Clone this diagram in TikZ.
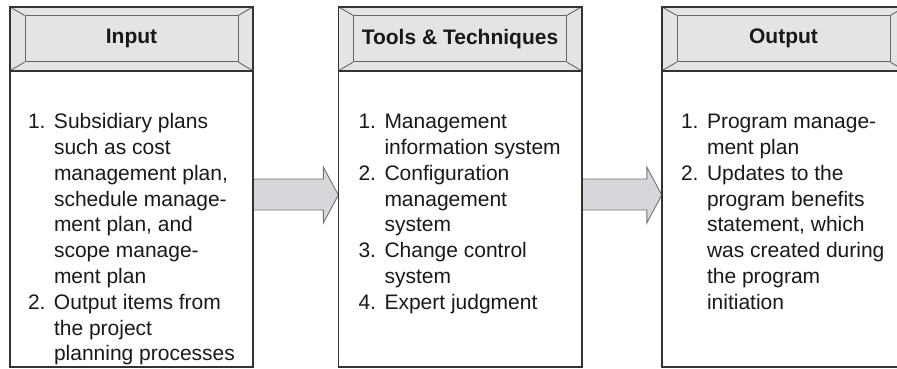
\documentclass[tikz,border=0pt]{standalone}
\usepackage{fontspec}
\setmainfont{Liberation Sans}
\usetikzlibrary{calc}

\definecolor{hdrgray}{HTML}{E4E4E4}
\definecolor{arrgray}{HTML}{D6D7DA}

\tikzset{
  panel/.style={minimum width=243pt, minimum height=360pt, inner sep=0pt},
  outline/.style={draw=black!80, line width=1.6pt},
  bevel/.style={draw=black!60, line width=0.9pt, fill=hdrgray},
  hdrbox/.style={bevel, minimum width=213pt, minimum height=46pt, inner sep=0pt,
    font=\fontsize{21}{25}\selectfont\bfseries, text=black!90},
  listtxt/.style={anchor=base west, inner sep=0pt,
    font=\fontsize{21}{25.8}\selectfont, text=black!90},
  blockarrow/.style={draw=black!55, line width=0.9pt, fill=arrgray, line join=miter},
}

\begin{document}
\begin{tikzpicture}[x=1pt,y=-1pt]
\clip (0,0) rectangle (897,369);

% the three panels
\node[panel] (input)  at (131.5,187) {};
\node[panel] (tools)  at (460,187)   {};
\node[panel] (output) at (783.5,187) {};

% bevelled headers
\foreach \b/\t in {input/Input, tools/{Tools \& Techniques}, output/Output} {
  \draw[bevel] (\b.north west) rectangle ($(\b.north east)+(0,64)$);
  \node[hdrbox] (\b hd) at ($(\b.north)+(0,32)$) {\t};
  \draw[bevel] (\b.north west) -- (\b hd.north west);
  \draw[bevel] (\b.north east) -- (\b hd.north east);
  \draw[bevel] ($(\b.north west)+(0,64)$) -- (\b hd.south west);
  \draw[bevel] ($(\b.north east)+(0,64)$) -- (\b hd.south east);
  \draw[outline] ($(\b.north west)+(0,64)$) -- ($(\b.north east)+(0,64)$);
}

% block arrows
\foreach \a/\b in {input/tools, tools/output}
  \draw[blockarrow] ($(\a.east)+(0,-8)$) -- ($(\b.west)+(-15,-8)$)
    -- ($(\b.west)+(-15,-20)$) -- ($(\b.west)+(0,8)$) -- ($(\b.west)+(-15,36)$)
    -- ($(\b.west)+(-15,23)$) -- ($(\a.east)+(0,23)$) -- cycle;

\foreach \b in {input,tools,output}
  \draw[outline] (\b.north west) rectangle (\b.south east);

% lists
\node[listtxt] (inputtxt) at ($(input.north west)+(18,122)$) {%
  \begin{tabular}[t]{@{}p{26pt}@{}l@{}}
  1. & Subsidiary plans\\
     & such as cost\\
     & management plan,\\
     & schedule manage-\\
     & ment plan, and\\
     & scope manage-\\
     & ment plan\\
  2. & Output items from\\
     & the project\\
     & planning processes
  \end{tabular}};
\node[listtxt] (toolstxt) at ($(tools.north west)+(20,122)$) {%
  \begin{tabular}[t]{@{}p{26pt}@{}l@{}}
  1. & Management\\
     & information system\\
  2. & Configuration\\
     & management\\
     & system\\
  3. & Change control\\
     & system\\
  4. & Expert judgment
  \end{tabular}};
\node[listtxt] (outputtxt) at ($(output.north west)+(19,122)$) {%
  \begin{tabular}[t]{@{}p{26pt}@{}l@{}}
  1. & Program manage-\\
     & ment plan\\
  2. & Updates to the\\
     & program benefits\\
     & statement, which\\
     & was created during\\
     & the program\\
     & initiation
  \end{tabular}};

\end{tikzpicture}
\end{document}
